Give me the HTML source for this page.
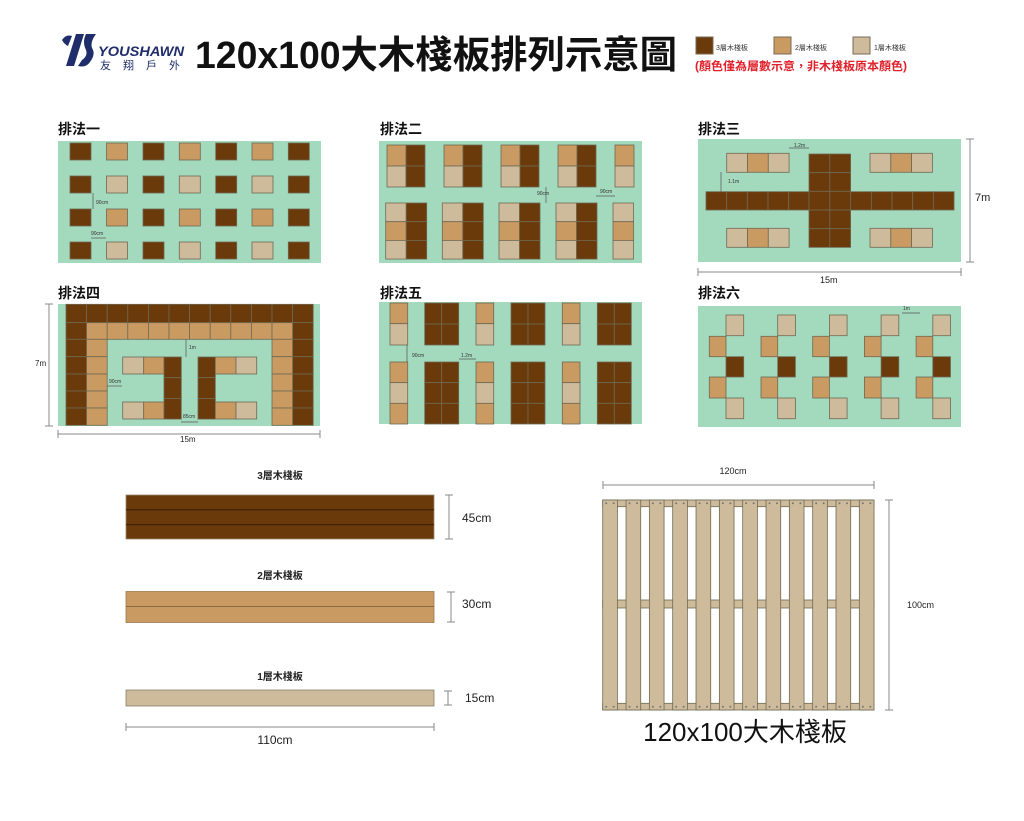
<!DOCTYPE html>
<html><head><meta charset="utf-8"><style>
html,body{margin:0;padding:0;background:#fff}
svg{display:block}
text{font-family:"Liberation Sans","Noto Sans CJK TC",sans-serif}
</style></head><body>
<svg id="s" width="1024" height="821" viewBox="0 0 1024 821" xmlns="http://www.w3.org/2000/svg">
<rect width="1024" height="821" fill="#fff"/>
<!-- logo -->
<g fill="#1f2d6b">
<path d="M62 40 Q66 34 72 36 L68 46 Q64 44 62 40Z"/>
<path d="M76 34 L84 34 L74 66 L66 66Z"/>
<path d="M86 34 L96 34 Q90 42 92 48 Q96 54 90 62 Q86 68 78 66 L82 60 Q88 56 86 50 Q82 42 86 34Z"/>
</g>
<text x="98" y="56" font-size="14" font-weight="bold" font-style="italic" fill="#1f2d6b" textLength="86" lengthAdjust="spacingAndGlyphs">YOUSHAWN</text>
<text x="100" y="69" font-size="11" fill="#1f2d6b" textLength="80" lengthAdjust="spacing">友 翔 戶 外</text>
<text x="195" y="68" font-size="38" font-weight="bold" fill="#111" textLength="482" lengthAdjust="spacingAndGlyphs">120x100大木棧板排列示意圖</text>
<rect x="696" y="37" width="17" height="17" fill="#6b3a0a" stroke="#7a6a55"/>
<text x="716" y="50" font-size="7" fill="#333">3層木棧板</text>
<rect x="774" y="37" width="17" height="17" fill="#c99a62" stroke="#7a6a55"/>
<text x="795" y="50" font-size="7" fill="#333">2層木棧板</text>
<rect x="853" y="37" width="17" height="17" fill="#cdbb9c" stroke="#7a6a55"/>
<text x="874" y="50" font-size="7" fill="#333">1層木棧板</text>
<text x="695" y="70" font-size="11.5" font-weight="bold" fill="#e0202a" textLength="212" lengthAdjust="spacingAndGlyphs">(顏色僅為層數示意，非木棧板原本顏色)</text>

<g font-size="14" font-weight="bold" fill="#111">
<text x="58" y="134">排法一</text><text x="380" y="134">排法二</text><text x="698" y="134">排法三</text>
<text x="58" y="298">排法四</text><text x="380" y="298">排法五</text><text x="698" y="298">排法六</text>
</g>
<g id="cells"></g>
<g stroke="#888" stroke-width="1" fill="none">
<line x1="970" y1="139" x2="970" y2="262"/><line x1="966" y1="139" x2="974" y2="139"/><line x1="966" y1="262" x2="974" y2="262"/>
<line x1="698" y1="272" x2="961" y2="272"/><line x1="698" y1="268" x2="698" y2="276"/><line x1="961" y1="268" x2="961" y2="276"/>
<line x1="49" y1="304" x2="49" y2="426"/><line x1="45" y1="304" x2="53" y2="304"/><line x1="45" y1="426" x2="53" y2="426"/>
<line x1="58" y1="434" x2="320" y2="434"/><line x1="58" y1="430" x2="58" y2="438"/><line x1="320" y1="430" x2="320" y2="438"/>
<line x1="449" y1="495" x2="449" y2="539"/><line x1="445" y1="495" x2="453" y2="495"/><line x1="445" y1="539" x2="453" y2="539"/>
<line x1="451" y1="592" x2="451" y2="622"/><line x1="447" y1="592" x2="455" y2="592"/><line x1="447" y1="622" x2="455" y2="622"/>
<line x1="448" y1="691" x2="448" y2="705"/><line x1="444" y1="691" x2="452" y2="691"/><line x1="444" y1="705" x2="452" y2="705"/>
<line x1="126" y1="727" x2="434" y2="727"/><line x1="126" y1="723" x2="126" y2="731"/><line x1="434" y1="723" x2="434" y2="731"/>
<line x1="603" y1="485" x2="874" y2="485"/><line x1="603" y1="481" x2="603" y2="489"/><line x1="874" y1="481" x2="874" y2="489"/>
<line x1="889" y1="500" x2="889" y2="710"/><line x1="885" y1="500" x2="893" y2="500"/><line x1="885" y1="710" x2="893" y2="710"/>
</g>
<g font-size="11" fill="#222">
<text x="975" y="201">7m</text><text x="820" y="283" font-size="9">15m</text>
<text x="35" y="366" font-size="8">7m</text><text x="180" y="442" font-size="8">15m</text>
</g>
<g font-size="5" fill="#333">
<text x="96" y="204">90cm</text><text x="91" y="235">90cm</text>
<text x="537" y="195">90cm</text><text x="600" y="193">90cm</text>
<text x="794" y="147">1.2m</text><text x="728" y="183">1.1m</text>
<text x="189" y="349">1m</text><text x="109" y="383">90cm</text><text x="183" y="418">85cm</text>
<text x="412" y="357">90cm</text><text x="461" y="357">1.2m</text><text x="903" y="310">1m</text>
</g>
<g font-size="10" font-weight="bold" fill="#222">
<text x="280" y="479" text-anchor="middle">3層木棧板</text>
<text x="280" y="579" text-anchor="middle">2層木棧板</text>
<text x="280" y="680" text-anchor="middle">1層木棧板</text>
</g>
<g font-size="12" fill="#222">
<text x="462" y="522">45cm</text><text x="462" y="608">30cm</text><text x="465" y="702">15cm</text>
<text x="275" y="744" text-anchor="middle">110cm</text>
</g>
<g font-size="9" fill="#222"><text x="733" y="474" text-anchor="middle">120cm</text><text x="907" y="608">100cm</text></g>
<text x="745" y="741" font-size="26" fill="#111" text-anchor="middle">120x100大木棧板</text>
</svg>
<script>
var D="#6b3a0a",M="#c99a62",L="#cdbb9c",G="#a3d9bd",S="#6f6a52";
var h="";
function r(x,y,w,hh,f,st){h+='<rect x="'+x+'" y="'+y+'" width="'+w+'" height="'+hh+'" fill="'+f+'"'+(st===0?'':' stroke="'+(st||S)+'" stroke-width="0.8"')+'/>';}
// panels
r(58,141,263,122,G,0);r(379,141,263,122,G,0);r(698,139,263,123,G,0);
r(58,304,262,122,G,0);r(379,302,263,122,G,0);r(698,306,263,121,G,0);
// p1
var cx=[70,106.5,143,179.3,215.7,252,288.3],ry=[143,176,209,242];
for(var i=0;i<7;i++)for(var j=0;j<4;j++){var c=i%2==0?D:(j%2==0?M:L);r(cx[i],ry[j],21,17,c);}
// p2
[387,444,501,558].forEach(function(x){r(x,145,19,21,M);r(x,166,19,21,L);r(x+19,145,19,21,D);r(x+19,166,19,21,D);});
r(615,145,19,21,M);r(615,166,19,21,L);
[385.7,442.3,499,556].forEach(function(x){var cs=[L,M,L];for(var k=0;k<3;k++){r(x,203+k*18.7,20.5,18.7,cs[k]);r(x+20.5,203+k*18.7,20.5,18.7,D);}});
[L,M,L].forEach(function(c,k){r(613,203+k*18.7,20.5,18.7,c);});
// p3
for(var i=0;i<12;i++)r(706+i*20.67,191.7,20.67,18.3,D);
for(var k=0;k<5;k++){r(809,154+k*18.67,20.8,18.67,D);r(829.8,154+k*18.67,20.8,18.67,D);}
[[726.7,153.3],[870,153.3],[726.7,228.3],[870,228.3]].forEach(function(p){[L,M,L].forEach(function(c,k){r(p[0]+k*20.8,p[1],20.8,19,c);});});
// p4
var ys=[304.3,322.7,339.3,356.7,374,391,408,425.3];
for(var i=0;i<12;i++)r(66+i*20.6,304.3,20.6,18.4,D);
for(var k=1;k<7;k++){r(66,ys[k],20.6,ys[k+1]-ys[k],D);r(292.6,ys[k],20.6,ys[k+1]-ys[k],D);}
for(var i=1;i<11;i++)r(66+i*20.6,322.7,20.6,16.6,M);
for(var k=2;k<7;k++){r(86.6,ys[k],20.6,ys[k+1]-ys[k],M);r(272,ys[k],20.6,ys[k+1]-ys[k],M);}
[357,402].forEach(function(y){r(122.7,y,21,17,L);r(143.7,y,20.3,17,M);r(215,y,21,17,M);r(236,y,20.7,17,L);});
for(var k=0;k<3;k++){r(164,357+k*20.7,17.3,20.7,D);r(198,357+k*20.7,17.3,20.7,D);}
// p5
[390,476,562.3].forEach(function(x){r(x,303,17.7,20.7,M);r(x,323.7,17.7,21.3,L);[M,L,M].forEach(function(c,k){r(x,362+k*20.67,17.7,20.67,c);});});
[424.7,511,597.3].forEach(function(x){for(var k=0;k<2;k++){r(x,303+k*21,17,21,D);r(x+17,303+k*21,17,21,D);}for(var k=0;k<3;k++){r(x,362+k*20.67,17,20.67,D);r(x+17,362+k*20.67,17,20.67,D);}});
// p6
for(var g=0;g<5;g++){var x=709.3+g*51.7;r(x+16.7,315,17.7,20.7,L);r(x,336.3,16.7,20.4,M);r(x+16.7,356.7,17.7,20.3,D);r(x,377,16.7,21,M);r(x+16.7,398,17.7,20.7,L);}
// bars
r(126,495,308,44,D,"#9b8a70");h+='<line x1="126" y1="509.8" x2="434" y2="509.8" stroke="#3a1e04"/><line x1="126" y1="524.6" x2="434" y2="524.6" stroke="#3a1e04"/>';
r(126,591.5,308,31,M,"#9b7a50");h+='<line x1="126" y1="606.5" x2="434" y2="606.5" stroke="#8a6a40"/>';
r(126,690,308,16,L,"#8a7f6a");
// pallet
var P="#cdbb9c";
r(602.7,500,271.3,6.7,P,"#6f6a52");r(602.7,703.3,271.3,6.7,P,"#6f6a52");r(602.7,600,271.3,8,P,"#6f6a52");
for(var i=0;i<12;i++){var x=602.7+i*23.33;r(x,500,14.7,210,P,"#6f6a52");h+='<circle cx="'+(x+3.5)+'" cy="503.3" r="1" fill="#777"/><circle cx="'+(x+11)+'" cy="503.3" r="1" fill="#777"/><circle cx="'+(x+3.5)+'" cy="706.7" r="1" fill="#777"/><circle cx="'+(x+11)+'" cy="706.7" r="1" fill="#777"/>';}
// dim helper lines small
var dl=[[93,193,93,209],[91,238,106,238],[546,187,546,203],[596,196,615,196],[789,148,809,148],[721,172,721,192],[186,339,186,357],[107,386,122,386],[181,422,198,422],[407,345,407,362],[459,359,476,359],[902,313,920,313]];
dl.forEach(function(l){h+='<line x1="'+l[0]+'" y1="'+l[1]+'" x2="'+l[2]+'" y2="'+l[3]+'" stroke="#555" stroke-width="0.7"/>';});
document.getElementById("cells").innerHTML=h;
</script>
</body></html>
